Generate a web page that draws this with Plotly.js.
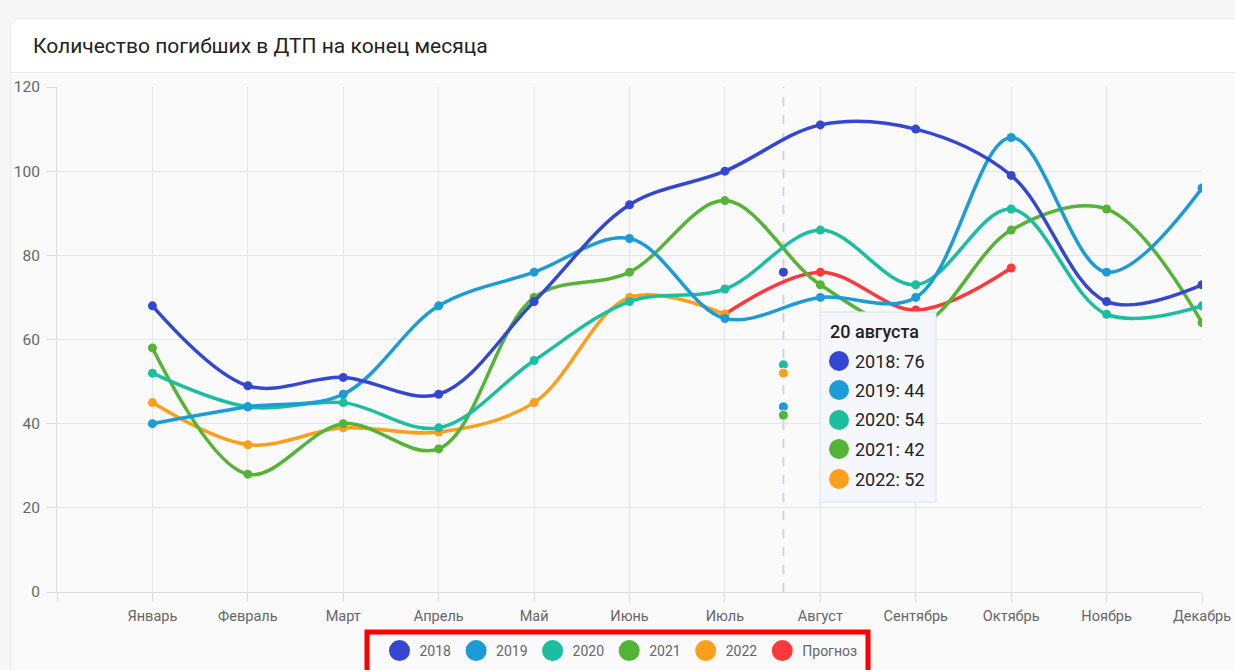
<!DOCTYPE html>
<html>
<head>
<meta charset="utf-8">
<script src="https://cdn.plot.ly/plotly-3.0.1.min.js"></script>
<style>
  html, body { margin:0; padding:0; background:#f7f7f7; width:1235px; height:670px; overflow:hidden; }
  #card { position:absolute; left:10px; top:18px; width:1240px; height:700px; background:#fafafa;
          border:1px solid #ebebeb; border-radius:10px; overflow:hidden; }
  #head { position:absolute; left:0; top:0; right:0; height:53px; background:#fff; border-bottom:1px solid #e9e9ee; }
  #chart { position:absolute; left:0; top:0; width:1235px; height:670px; }
</style>
</head>
<body>
<div id="card"><div id="head"></div></div>
<div id="chart"></div>
<script>
// ---- data ----
const months = ['Январь','Февраль','Март','Апрель','Май','Июнь','Июль','Август','Сентябрь','Октябрь','Ноябрь','Декабрь'];
const seriesNames = ['2018','2019','2020','2021','2022','Прогноз'];
const v2018 = [68,49,51,47,69,92,100,111,110,99,69,73];
const v2019 = [40,44,47,68,76,84,65,70,70,108,76,96];
const v2020 = [52,44,45,39,55,69,72,86,73,91,66,68];
const v2021 = [58,28,40,34,70,76,93,73,63,86,91,64];
const v2022 = [45,35,39,38,45,70,66,null,null,null,null,null];
const forecast = [null,null,null,null,null,null,66,76,67,77,null,null];
const markLabel = '20 августа';
const markMonth = 'Август';
const markDay = 20;
const markValues = [76,44,54,42,52];   // 2018..2022 on 20 August

// ---- styling ----
const colors = ['#3447d0','#1b9cd8','#1bbf9f','#54b435','#fd9f1b','#fc3a3e'];
const W = 1235, H = 670, L = 57, R = 33, T = 87, B = 78;
const plotW = W - L - R, plotH = H - T - B;
const px = x => (x - L) / plotW;
const py = y => (H - B - y) / plotH;
const FONT = 'Roboto, Arial, sans-serif';

const xIdx = months.map((m, i) => i + 1);
const mi = months.indexOf(markMonth);
const markX = mi + (markDay - 1) / 31;   // position between Июль and Август

const allSeries = [v2018, v2019, v2020, v2021, v2022, forecast];
const traces = [];
// draw order: first dataset on top -> add in reverse
for (let i = allSeries.length - 1; i >= 0; i--) {
  traces.push({
    x: xIdx, y: allSeries[i], type: 'scatter', mode: 'lines+markers',
    name: seriesNames[i], showlegend: false, hoverinfo: 'skip',
    line: {color: colors[i], width: 3.5, shape: 'spline', smoothing: 1},
    marker: {color: colors[i], size: 9},
    connectgaps: false
  });
}
// marker points at 20 August
traces.push({
  x: markValues.map(() => markX), y: markValues, type: 'scatter', mode: 'markers',
  showlegend: false, hoverinfo: 'skip',
  marker: {color: colors.slice(0, 5), size: 10, line: {color: '#ffffff', width: 1}}
});
// legend entries
seriesNames.forEach((n, i) => {
  traces.push({
    x: [null], y: [null], type: 'scatter', mode: 'markers', name: n, showlegend: true,
    marker: {color: colors[i], size: 16, line: {color: colors[i], width: 5}}
  });
});

const shapes = [
  {type: 'line', xref: 'x', yref: 'paper', x0: markX, x1: markX, y0: 0, y1: 1,
   line: {color: '#cdd4e4', width: 2, dash: 'dash'}, layer: 'below'},
  // tooltip box
  {type: 'rect', xref: 'paper', yref: 'paper', x0: px(820), x1: px(936), y0: py(502), y1: py(312),
   fillcolor: '#f5f7fc', line: {color: '#dce2ec', width: 1}, layer: 'above'},
  // red highlight box around the legend
  {type: 'rect', xref: 'paper', yref: 'paper', x0: px(367), x1: px(868), y0: py(676), y1: py(632),
   fillcolor: 'rgba(0,0,0,0)', line: {color: '#ff0000', width: 5}, layer: 'above'}
];
const annotations = [
  {xref: 'paper', yref: 'paper', x: px(828), y: py(331), xanchor: 'left', yanchor: 'middle',
   showarrow: false, text: markLabel, font: {family: FONT, size: 18, color: '#222', weight: 500}}
];
const rowY = [361, 390, 420, 449, 479];
markValues.forEach((v, i) => {
  shapes.push({type: 'circle', xref: 'paper', yref: 'paper', xsizemode: 'pixel', ysizemode: 'pixel',
    xanchor: px(839), yanchor: py(rowY[i]), x0: -10, x1: 10, y0: -10, y1: 10,
    fillcolor: colors[i], line: {width: 0}, layer: 'above'});
  annotations.push({xref: 'paper', yref: 'paper', x: px(853), y: py(rowY[i]), xanchor: 'left', yanchor: 'middle',
    showarrow: false, text: seriesNames[i] + ': ' + v,
    font: {family: FONT, size: 18, color: '#222'}});
});

const layout = {
  width: W, height: H,
  margin: {l: L, r: R, t: T, b: B, pad: 0},
  paper_bgcolor: 'rgba(0,0,0,0)', plot_bgcolor: 'rgba(0,0,0,0)',
  font: {family: FONT, size: 14, color: '#666'},
  title: {text: 'Количество погибших в ДТП на конец месяца', xref: 'container', yref: 'container',
          x: 33 / W, xanchor: 'left', y: 1 - 46 / H, yanchor: 'middle',
          font: {family: FONT, size: 21, color: '#222'}},
  xaxis: {range: [0, 12], tickvals: [0].concat(xIdx), ticktext: [''].concat(months),
          showgrid: true, gridcolor: '#e6e6e6', gridwidth: 1, zeroline: false,
          ticks: 'outside', ticklen: 9, tickcolor: '#dddddd', ticklabelstandoff: 2,
          showline: true, linecolor: '#dddddd', fixedrange: true,
          tickfont: {size: 14.5, color: '#666'}},
  yaxis: {range: [0, 120], tickvals: [0, 20, 40, 60, 80, 100, 120],
          showgrid: true, gridcolor: '#e6e6e6', zeroline: false,
          ticks: 'outside', ticklen: 10, tickcolor: '#dddddd', ticklabelstandoff: 3,
          showline: true, linecolor: '#dddddd', fixedrange: true,
          tickfont: {size: 15.5, color: '#666'}},
  showlegend: true,
  legend: {orientation: 'h', xref: 'container', yref: 'container',
           x: 621 / W, xanchor: 'center', y: 1 - 651 / H, yanchor: 'middle',
           font: {size: 14, color: '#666'}, bgcolor: 'rgba(0,0,0,0)', itemclick: false},
  hovermode: false,
  shapes: shapes, annotations: annotations
};
Plotly.newPlot('chart', traces, layout, {displayModeBar: false, staticPlot: true});
</script>
</body>
</html>
